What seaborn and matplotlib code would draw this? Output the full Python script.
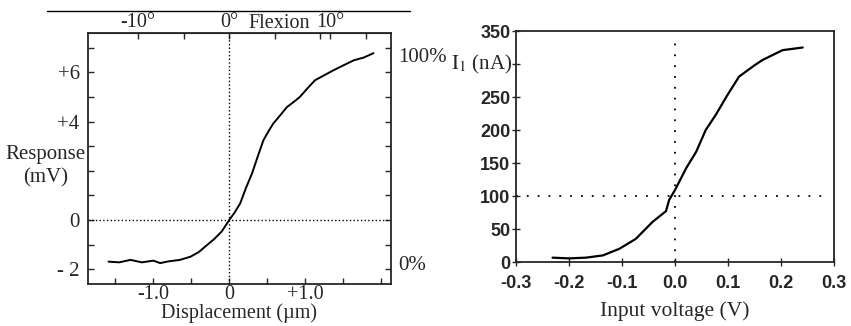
import numpy as np
import pandas as pd
import matplotlib
matplotlib.use('Agg')
import matplotlib.pyplot as plt
import seaborn as sns

# Left panel: receptor potential vs. hair bundle displacement
disp_um = [-1.59, -1.45, -1.30, -1.15, -1.00, -0.91, -0.80, -0.65, -0.51, -0.40, -0.29,
           -0.20, -0.10, 0.00, 0.07, 0.145, 0.22, 0.30, 0.38, 0.45, 0.52, 0.58, 0.67,
           0.76, 0.85, 0.93, 1.03, 1.13, 1.25, 1.37, 1.50, 1.64, 1.77, 1.90]
resp_mv = [-1.69, -1.72, -1.62, -1.72, -1.65, -1.75, -1.68, -1.62, -1.49, -1.30, -1.01,
           -0.78, -0.47, 0.00, 0.30, 0.68, 1.30, 1.89, 2.62, 3.24, 3.62, 3.92, 4.25,
           4.59, 4.80, 5.00, 5.35, 5.68, 5.88, 6.08, 6.28, 6.49, 6.60, 6.78]

# Right panel: transistor current vs. input voltage
volt = [-0.231, -0.200, -0.168, -0.136, -0.105, -0.074, -0.042, -0.017, -0.011, 0.000,
        0.021, 0.040, 0.058, 0.077, 0.099, 0.121, 0.150, 0.165, 0.203, 0.241]
curr_na = [6.6, 5.5, 6.6, 10, 20, 35, 61, 77, 94, 109,
           142, 167, 200, 223, 253, 281, 298, 306, 321, 325]

left_yticks = [-2, 0, 4, 6]
left_ylabels = ['- 2', '0', '+4', '+6']
left_xticks = [-1.0, 0, 1.0]
left_xlabels = ['-1.0', '0', '+1.0']
flex_ticks = [-1.2, 0, 1.33]
flex_labels = ['-10°', '0°', '10°']
right_xticks = [-0.3, -0.2, -0.1, 0.0, 0.1, 0.2, 0.3]
right_yticks = [0, 50, 100, 150, 200, 250, 300, 350]
right_ylabels = ['0', '50', '100', '150', '200', '250', '', '350']

sns.set_style('ticks')
plt.rcParams['font.family'] = ['Liberation Serif', 'DejaVu Serif']
plt.rcParams['mathtext.fontset'] = 'stix'

fig = plt.figure(figsize=(8.51, 3.26), dpi=100)
ax1 = fig.add_axes([0.1034, 0.1288, 0.356, 0.770])
ax2 = fig.add_axes([0.6063, 0.1963, 0.3737, 0.7086])

df1 = pd.DataFrame({'disp': disp_um, 'resp': resp_mv})
sns.lineplot(data=df1, x='disp', y='resp', ax=ax1, color='black', lw=1.4, sort=False)
ax1.axvline(0, color='black', ls=':', lw=1)
ax1.axhline(0, color='black', ls=':', lw=1)
ax1.set_xlim(-1.86, 2.13)
ax1.set_ylim(-2.6, 7.6)
ax1.set_xticks(left_xticks)
ax1.set_xticklabels(left_xlabels, fontsize=14.5)
ax1.set_xticks(np.arange(-1.5, 2.01, 0.5), minor=True)
ax1.set_yticks(left_yticks)
ax1.set_yticklabels(left_ylabels, fontsize=15)
ax1.set_yticks(np.arange(-2, 7.1, 1), minor=True)
ax1.tick_params(which='both', direction='in', right=True, length=4, width=1)
ax1.tick_params(axis='x', pad=1)
ax1.tick_params(axis='y', pad=6)
ax1.set_xlabel('Displacement (µm)', fontsize=14.5, labelpad=-1)
ax1.set_ylabel('Response\n(mV)', fontsize=15, rotation=0, ha='center', va='center',
               linespacing=1.3)
ax1.yaxis.set_label_coords(-0.14, 0.47)
for s in ax1.spines.values():
    s.set_linewidth(1.3)

top = ax1.secondary_xaxis('top')
top.set_xticks(flex_ticks)
top.set_xticklabels(flex_labels, fontsize=14.5)
top.set_xticks(np.arange(-1.2, 1.81, 0.6), minor=True)
top.tick_params(which='both', direction='in', length=4, width=1, pad=1)
ax1.text(0.66, 1.0, 'Flexion', transform=ax1.get_xaxis_transform(),
         fontsize=14.5, ha='center', va='bottom')
ax1.text(1.025, 6.6, '100%', transform=ax1.get_yaxis_transform(), fontsize=15,
         ha='left', va='center')
ax1.text(1.025, -1.85, '0%', transform=ax1.get_yaxis_transform(), fontsize=15,
         ha='left', va='center')

df2 = pd.DataFrame({'volt': volt, 'curr': curr_na})
sns.lineplot(data=df2, x='volt', y='curr', ax=ax2, color='black', lw=1.6, sort=False)
ax2.plot([-0.3, 0.28], [100, 100], color='black', ls=(0, (1, 5)), lw=1.3)
ax2.plot([0, 0], [0, 334], color='black', ls=(0, (1, 5)), lw=1.3)
ax2.set_xlim(-0.3, 0.3)
ax2.set_ylim(0, 350)
ax2.set_xticks(right_xticks)
ax2.set_yticks(right_yticks)
ax2.set_xticklabels(['%.1f' % v for v in right_xticks],
                    family='Liberation Sans', fontsize=13, weight='bold')
ax2.set_yticklabels(right_ylabels, family='Liberation Sans', fontsize=13, weight='bold')
ax2.tick_params(which='both', direction='inout', length=6, width=1)
ax2.tick_params(axis='x', pad=6)
ax2.tick_params(axis='y', pad=1)
ax2.set_xlabel('Input voltage (V)', fontsize=15.5, labelpad=7)
ax2.set_ylabel('')
ax2.text(-0.012, 300, r'$\mathrm{I}_1$ (nA)', transform=ax2.get_yaxis_transform(),
         fontsize=15, ha='right', va='center')
for s in ax2.spines.values():
    s.set_linewidth(1.3)

# scanned rule across the top of the left figure
fig.add_artist(plt.Line2D([47 / 851, 410 / 851], [1 - 11 / 326, 1 - 11 / 326],
                          color='black', lw=1))

fig.savefig('out.png', dpi=100)
